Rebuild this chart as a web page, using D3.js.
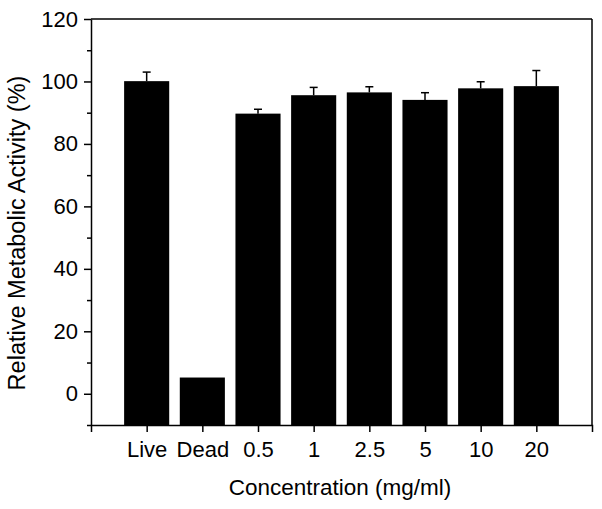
<!DOCTYPE html>
<html>
<head>
<meta charset="utf-8">
<script src="https://cdn.jsdelivr.net/npm/d3@7"></script>
<style>
  html, body { margin: 0; padding: 0; background: #fff; }
  svg { display: block; }
  text { font-family: "Liberation Sans", Arial, sans-serif; fill: #000; }
</style>
</head>
<body>
<svg id="chart" width="602" height="509"></svg>
<script>
const categories = ["Live", "Dead", "0.5", "1", "2.5", "5", "10", "20"];
const values     = [100.1, 5.2, 89.7, 95.6, 96.5, 94.1, 97.8, 98.5];
const errors     = [2.9, 0, 1.4, 2.5, 1.8, 2.3, 2.1, 5.0];
const yMajorTicks = [0, 20, 40, 60, 80, 100, 120];
const yMinorTicks = [-10, 10, 30, 50, 70, 90, 110];

const svg = d3.select("#chart");
const mLeft = 91, mRight = 592, mTop = 19, mBottom = 425;

const x = d3.scalePoint().domain(categories).range([mLeft, mRight]).padding(1);
const y = d3.scaleLinear().domain([-10, 120]).range([mBottom, mTop]);
const barW = x.step() * 0.81;

// bars
svg.append("g").selectAll("rect")
  .data(categories)
  .join("rect")
  .attr("x", d => x(d) - barW / 2)
  .attr("width", barW)
  .attr("y", (d, i) => y(values[i]))
  .attr("height", (d, i) => y(-10) - y(values[i]))
  .attr("fill", "#000");

// error bars
const eg = svg.append("g").attr("stroke", "#000").attr("stroke-width", 1.5);
categories.forEach((c, i) => {
  if (!errors[i]) return;
  eg.append("line").attr("x1", x(c)).attr("x2", x(c))
    .attr("y1", y(values[i])).attr("y2", y(values[i] + errors[i]));
  eg.append("line").attr("x1", x(c) - 4).attr("x2", x(c) + 4)
    .attr("y1", y(values[i] + errors[i])).attr("y2", y(values[i] + errors[i]));
});

// frame (top and right)
svg.append("line").attr("x1", mLeft).attr("x2", mRight).attr("y1", mTop).attr("y2", mTop)
  .attr("stroke", "#000").attr("stroke-width", 1.5);
svg.append("line").attr("x1", mRight).attr("x2", mRight).attr("y1", mTop).attr("y2", mBottom)
  .attr("stroke", "#000").attr("stroke-width", 1.5);

// left axis - minor ticks
svg.append("g").attr("transform", `translate(${mLeft},0)`)
  .call(d3.axisLeft(y).tickValues(yMinorTicks).tickSize(4).tickFormat("").tickSizeOuter(0))
  .call(g => g.select(".domain").remove())
  .call(g => g.selectAll("line").attr("stroke-width", 1.5));

// left axis - major
const ya = svg.append("g").attr("transform", `translate(${mLeft},0)`)
  .call(d3.axisLeft(y).tickValues(yMajorTicks).tickSize(7).tickSizeOuter(0).tickPadding(6).tickFormat(d3.format("d")));
ya.selectAll("path, line").attr("stroke-width", 1.5);
ya.selectAll("text").attr("font-size", 22).style("font-family", '"Liberation Sans", Arial, sans-serif');

// bottom axis
const xa = svg.append("g").attr("transform", `translate(0,${mBottom})`)
  .call(d3.axisBottom(x).tickSize(7).tickSizeOuter(7).tickPadding(9));
xa.selectAll("path, line").attr("stroke-width", 1.5);
xa.selectAll("text").attr("font-size", 22).style("font-family", '"Liberation Sans", Arial, sans-serif');

// axis titles
svg.append("text")
  .attr("x", 340).attr("y", 495)
  .attr("text-anchor", "middle").attr("font-size", 22.5)
  .text("Concentration (mg/ml)");

svg.append("text")
  .attr("transform", `translate(25,${233}) rotate(-90)`)
  .attr("text-anchor", "middle").attr("font-size", 23.5)
  .text("Relative Metabolic Activity (%)");
</script>
</body>
</html>
